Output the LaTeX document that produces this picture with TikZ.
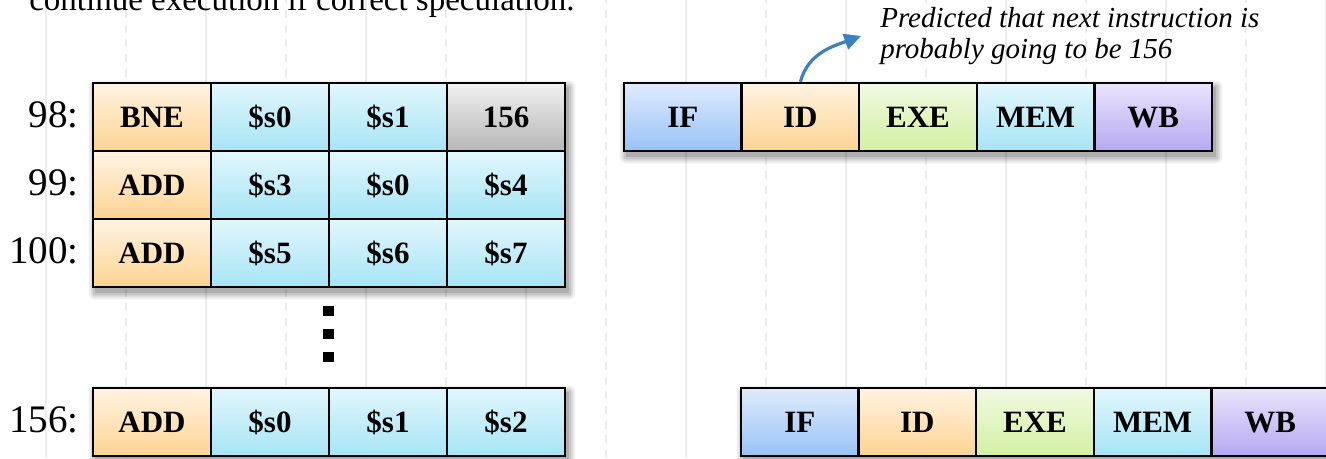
\documentclass[tikz,border=0pt]{standalone}
\usepackage{fontspec}
\setmainfont{Liberation Serif}
\usetikzlibrary{arrows.meta,backgrounds}

\definecolor{gridgray}{RGB}{236,236,236}
\definecolor{opTop}{RGB}{255,243,226}
\definecolor{opBot}{RGB}{253,212,146}
\definecolor{regTop}{RGB}{226,247,253}
\definecolor{regBot}{RGB}{166,228,245}
\definecolor{immTop}{RGB}{241,241,241}
\definecolor{immBot}{RGB}{182,182,182}
\definecolor{ifTop}{RGB}{223,235,252}
\definecolor{ifBot}{RGB}{152,194,246}
\definecolor{exTop}{RGB}{241,249,226}
\definecolor{exBot}{RGB}{211,240,162}
\definecolor{wbTop}{RGB}{234,229,252}
\definecolor{wbBot}{RGB}{181,168,242}
\definecolor{arrowblue}{RGB}{60,128,194}

% soft shadow behind a group of cells, given its two corner anchors
\newcommand\softshade[2]{%
  \foreach \e/\o in {0/0.12,1.5/0.10,3/0.08,4.5/0.06}{%
    \fill[black,opacity=\o,rounded corners={\e*1pt}]
      ([xshift={(2.25-\e)*1pt},yshift={(-3.75+\e)*1pt}]#1) rectangle
      ([xshift={(2.25+\e)*1pt},yshift={(-3.75-\e)*1pt}]#2);}}

\begin{document}
\begin{tikzpicture}[x=0.75pt,y=0.75pt,
  cell/.style={draw=black,line width=1.9pt,minimum width=88.5pt,minimum height=51pt,
    inner sep=0pt,font=\fontsize{23.25}{28}\selectfont\bfseries,
    text height=15.4pt,text depth=0pt},
  stage/.style={cell,minimum width=88.2pt},
  opcell/.style={cell,top color=opTop,bottom color=opBot},
  regcell/.style={cell,top color=regTop,bottom color=regBot},
  immcell/.style={cell,top color=immTop,bottom color=immBot},
  ifcell/.style={stage,top color=ifTop,bottom color=ifBot},
  idcell/.style={stage,top color=opTop,bottom color=opBot},
  excell/.style={stage,top color=exTop,bottom color=exBot},
  memcell/.style={stage,top color=regTop,bottom color=regBot},
  wbcell/.style={stage,top color=wbTop,bottom color=wbBot},
  rowlabel/.style={anchor=base east,inner sep=0pt,font=\fontsize{29.25}{34}\selectfont},
  caption/.style={anchor=base west,inner sep=0pt,font=\fontsize{24.75}{30}\selectfont},
  note/.style={anchor=west,align=left,inner xsep=14.25pt,inner ysep=0pt,
    font=\fontsize{21.75}{23.25}\selectfont\itshape},
  dotmark/.style={rectangle,fill=black,inner sep=0pt,minimum width=7.7pt,minimum height=7pt},
  gridline/.style={draw=gridgray,line width=1.5pt},
  hint/.style={draw=arrowblue,line width=2.4pt,-{Triangle[length=12.5pt,width=12pt]}}
]
\useasboundingbox (0,0) rectangle (1326,458);

% caption line, partly above the top edge
\node[caption] (cap) at (29,447) {continue execution if correct speculation.};

% instruction memory
\node[rowlabel] (l98) at (79,331) {98:};
\node[rowlabel] (l99) at (79,263) {99:};
\node[rowlabel] (l100) at (79,195) {100:};
\node[rowlabel] (l156) at (79,26) {156:};

\node[opcell]  (r98op) at (152,341) {BNE};
\node[regcell] (r98a)  at (270,341) {\$s0};
\node[regcell] (r98b)  at (388,341) {\$s1};
\node[immcell] (r98c)  at (506,341) {156};

\node[opcell]  (r99op) at (152,273) {ADD};
\node[regcell] (r99a)  at (270,273) {\$s3};
\node[regcell] (r99b)  at (388,273) {\$s0};
\node[regcell] (r99c)  at (506,273) {\$s4};

\node[opcell]  (r100op) at (152,205) {ADD};
\node[regcell] (r100a)  at (270,205) {\$s5};
\node[regcell] (r100b)  at (388,205) {\$s6};
\node[regcell] (r100c)  at (506,205) {\$s7};

\node[dotmark] (d1) at (328.5,147) {};
\node[dotmark] (d2) at (328.5,124) {};
\node[dotmark] (d3) at (328.5,101) {};

\node[opcell]  (r156op) at (152,36) {ADD};
\node[regcell] (r156a)  at (270,36) {\$s0};
\node[regcell] (r156b)  at (388,36) {\$s1};
\node[regcell] (r156c)  at (506,36) {\$s2};

% pipeline of the branch
\node[ifcell]  (if1)  at (682.8,341)  {IF};
\node[idcell]  (id1)  at (800.4,341)  {ID};
\node[excell]  (ex1)  at (918,341)    {EXE};
\node[memcell] (mem1) at (1035.6,341) {MEM};
\node[wbcell]  (wb1)  at (1153.2,341) {WB};

% pipeline of the predicted instruction
\node[ifcell]  (if2)  at (799.8,36)  {IF};
\node[idcell]  (id2)  at (917.4,36)  {ID};
\node[excell]  (ex2)  at (1035,36)   {EXE};
\node[memcell] (mem2) at (1152.6,36) {MEM};
\node[wbcell]  (wb2)  at (1270.2,36) {WB};

% prediction note
\node[note] (note) at (861,422) {Predicted that next instruction is\\probably going to be 156};
\draw[hint] (id1.north) to[out=75,in=200] (note.west);

\begin{pgfonlayer}{background}
  \fill[white] (0,0) rectangle (1326,458);
  \foreach \k in {0,2,...,16}
    \draw[gridline] ({46+80*\k},0) -- ({46+80*\k},458);
  \foreach \k in {1,3,...,15}
    \draw[gridline,dash pattern=on 6pt off 5pt] ({46+80*\k},0) -- ({46+80*\k},458);
  \softshade{r98op.north west}{r100c.south east}
  \softshade{r156op.north west}{r156c.south east}
  \softshade{if1.north west}{wb1.south east}
  \softshade{if2.north west}{wb2.south east}
\end{pgfonlayer}
\end{tikzpicture}
\end{document}
